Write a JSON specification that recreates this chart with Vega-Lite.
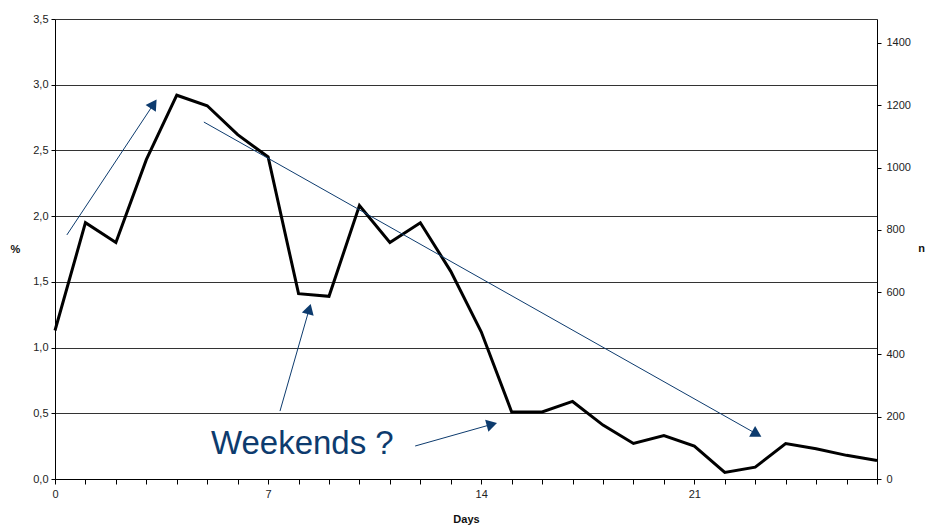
{
  "$schema": "https://vega.github.io/schema/vega-lite/v6.json",
  "width": 822,
  "height": 460,
  "autosize": {"type": "none"},
  "padding": {"left": 55, "top": 19, "right": 51, "bottom": 52},
  "background": "white",
  "config": {
    "view": {"stroke": null},
    "font": "Liberation Sans",
    "axis": {
      "labelFont": "Liberation Sans",
      "titleFont": "Liberation Sans",
      "labelFontSize": 11,
      "titleFontSize": 11,
      "labelColor": "#222",
      "titleColor": "#111",
      "titleFontWeight": "bold",
      "domainColor": "#000",
      "tickColor": "#000",
      "tickSize": 4,
      "labelPadding": 3
    }
  },
  "datasets": {
    "series": [
      {"day": 0, "pct": 1.13}, {"day": 1, "pct": 1.95}, {"day": 2, "pct": 1.80},
      {"day": 3, "pct": 2.43}, {"day": 4, "pct": 2.92}, {"day": 5, "pct": 2.84},
      {"day": 6, "pct": 2.62}, {"day": 7, "pct": 2.45}, {"day": 8, "pct": 1.41},
      {"day": 9, "pct": 1.39}, {"day": 10, "pct": 2.08}, {"day": 11, "pct": 1.80},
      {"day": 12, "pct": 1.95}, {"day": 13, "pct": 1.58}, {"day": 14, "pct": 1.12},
      {"day": 15, "pct": 0.51}, {"day": 16, "pct": 0.51}, {"day": 17, "pct": 0.59},
      {"day": 18, "pct": 0.41}, {"day": 19, "pct": 0.27}, {"day": 20, "pct": 0.33},
      {"day": 21, "pct": 0.25}, {"day": 22, "pct": 0.05}, {"day": 23, "pct": 0.09},
      {"day": 24, "pct": 0.27}, {"day": 25, "pct": 0.23}, {"day": 26, "pct": 0.18},
      {"day": 27, "pct": 0.14}
    ],
    "arrows": [
      {"id": 1, "day": 0.39, "pct": 1.857, "day2": 3.24, "pct2": 2.853},
      {"id": 2, "day": 4.89, "pct": 2.716, "day2": 23.05, "pct2": 0.342},
      {"id": 3, "day": 7.39, "pct": 0.517, "day2": 8.35, "pct2": 1.293},
      {"id": 4, "day": 11.83, "pct": 0.251, "day2": 14.35, "pct2": 0.416}
    ],
    "heads": [
      {"id": 1, "day": 3.24, "pct": 2.853},
      {"id": 2, "day": 23.05, "pct": 0.342},
      {"id": 3, "day": 8.35, "pct": 1.293},
      {"id": 4, "day": 14.35, "pct": 0.416}
    ],
    "label": [{"day": 5.12, "pct": 0.19, "text": "Weekends ?"}],
    "right": [{"n": 0}, {"n": 1477}]
  },
  "layer": [
    {
      "encoding": {
        "x": {
          "field": "day", "type": "quantitative",
          "scale": {"domain": [0, 27], "nice": false, "zero": false},
          "axis": {
            "title": "Days",
            "values": [0,1,2,3,4,5,6,7,8,9,10,11,12,13,14,15,16,17,18,19,20,21,22,23,24,25,26,27],
            "labelExpr": "datum.value % 7 == 0 ? datum.label : ''",
            "labelOverlap": false,
            "labelFlush": false,
            "labelBound": false,
            "grid": false,
            "tickSize": 5,
            "labelPadding": 4,
            "titlePadding": 14
          }
        },
        "y": {
          "field": "pct", "type": "quantitative",
          "scale": {"domain": [0, 3.5], "nice": false},
          "axis": {
            "title": "%",
            "values": [0, 0.5, 1, 1.5, 2, 2.5, 3, 3.5],
            "labelExpr": "replace(format(datum.value, '.1f'), '.', ',')",
            "labelOverlap": false,
            "labelFlush": false,
            "grid": true,
            "gridColor": "#333",
            "gridOpacity": 1,
            "gridWidth": 1,
            "titleAngle": 0,
            "titleAlign": "center",
            "titleBaseline": "middle",
            "titleX": -40,
            "titleY": 230
          }
        }
      },
      "layer": [
        {
          "data": {"name": "series"},
          "mark": {"type": "line", "color": "#000", "strokeWidth": 3, "strokeJoin": "miter"}
        },
        {
          "data": {"name": "arrows"},
          "mark": {"type": "rule", "color": "#0d3b6e", "strokeWidth": 1},
          "encoding": {
            "x2": {"field": "day2"},
            "y2": {"field": "pct2"}
          }
        },
        {
          "data": {"name": "heads"},
          "transform": [{"filter": "datum.id == 1"}],
          "mark": {"type": "point", "shape": "triangle-up", "filled": true, "color": "#0d3b6e", "opacity": 1, "size": 150, "angle": 33.5}
        },
        {
          "data": {"name": "heads"},
          "transform": [{"filter": "datum.id == 2"}],
          "mark": {"type": "point", "shape": "triangle-up", "filled": true, "color": "#0d3b6e", "opacity": 1, "size": 150, "angle": 119.4}
        },
        {
          "data": {"name": "heads"},
          "transform": [{"filter": "datum.id == 3"}],
          "mark": {"type": "point", "shape": "triangle-up", "filled": true, "color": "#0d3b6e", "opacity": 1, "size": 150, "angle": 16}
        },
        {
          "data": {"name": "heads"},
          "transform": [{"filter": "datum.id == 4"}],
          "mark": {"type": "point", "shape": "triangle-up", "filled": true, "color": "#0d3b6e", "opacity": 1, "size": 150, "angle": 74.5}
        },
        {
          "data": {"name": "label"},
          "mark": {"type": "text", "align": "left", "baseline": "alphabetic", "font": "Liberation Sans", "fontSize": 33, "color": "#0d3b6e"},
          "encoding": {
            "text": {"field": "text"}
          }
        }
      ]
    },
    {
      "data": {"name": "right"},
      "mark": {"type": "point", "opacity": 0},
      "encoding": {
        "y": {
          "field": "n", "type": "quantitative",
          "scale": {"domain": [0, 1477], "nice": false},
          "axis": {
            "orient": "right",
            "title": "n",
            "format": "d",
            "values": [0, 200, 400, 600, 800, 1000, 1200, 1400],
            "labelOverlap": false,
            "grid": false,
            "labelPadding": 5,
            "titleAngle": 0,
            "titleAlign": "center",
            "titleBaseline": "middle",
            "titleX": 44,
            "titleY": 229
          }
        }
      }
    }
  ],
  "resolve": {"scale": {"y": "independent"}}
}
